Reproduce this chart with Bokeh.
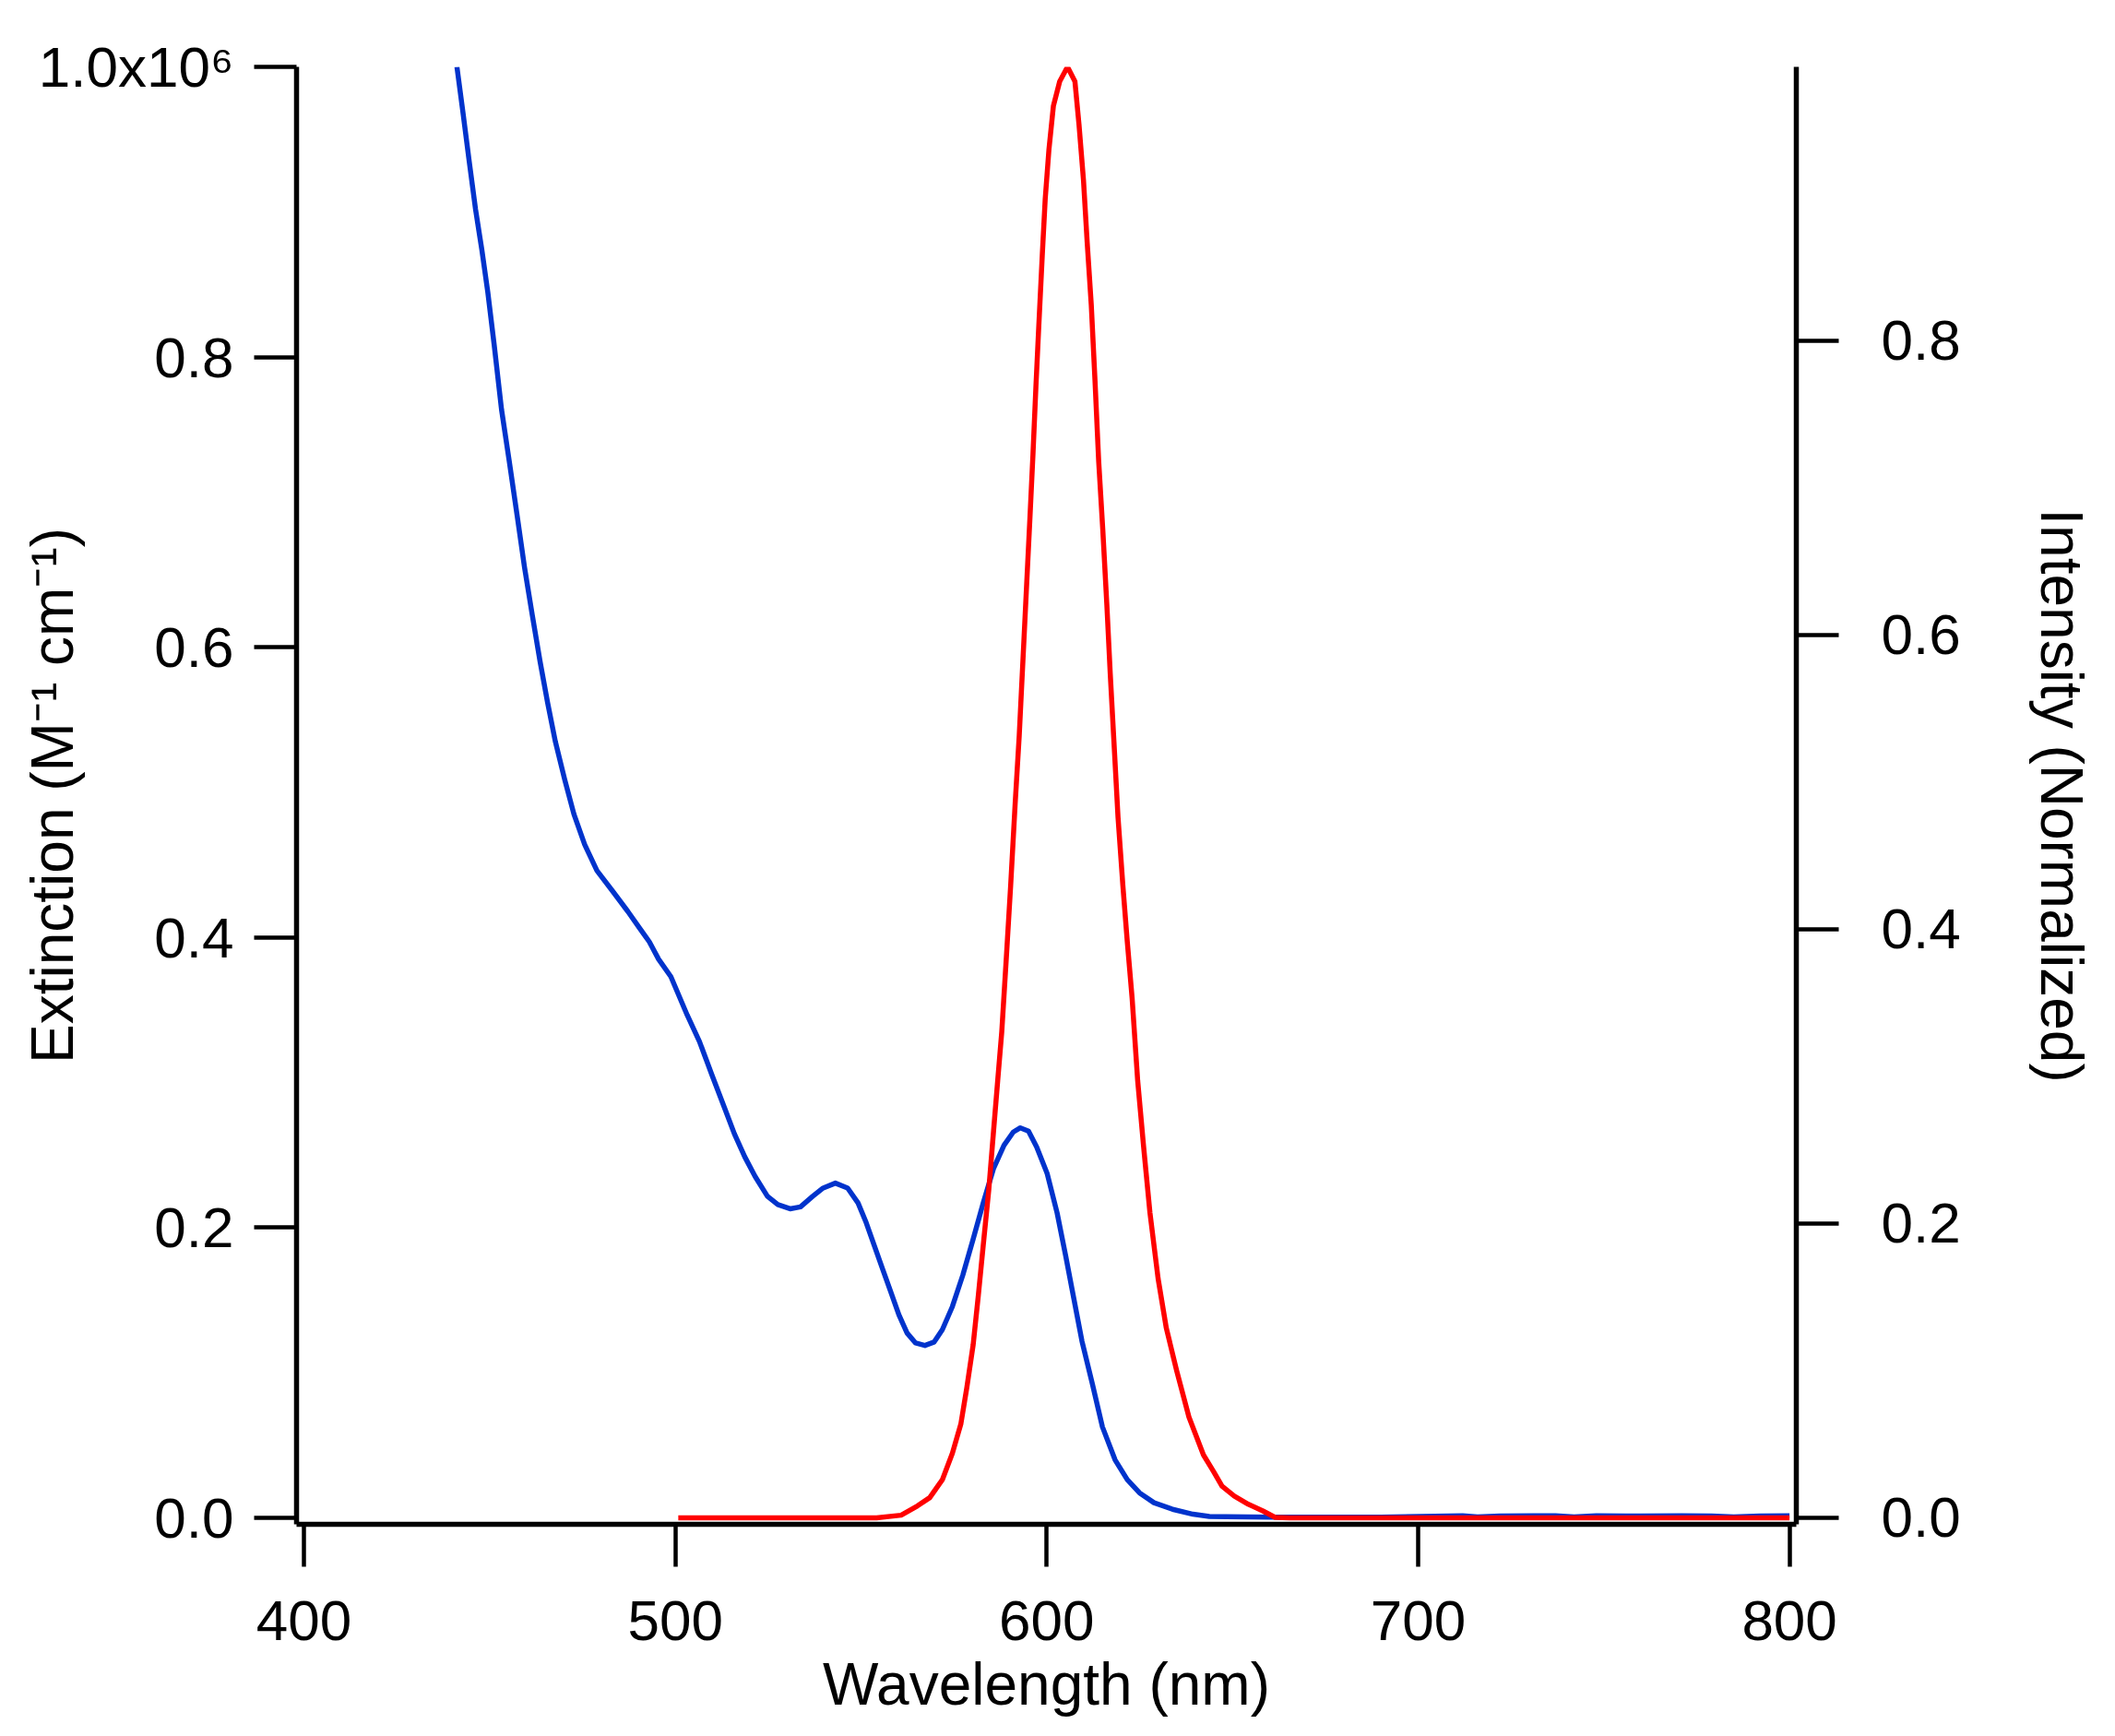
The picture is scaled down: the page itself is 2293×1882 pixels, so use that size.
from bokeh.plotting import figure
from bokeh.models import (Range1d, LinearAxis, FixedTicker, CustomJSTickFormatter,
                          ColumnDataSource)
from bokeh.embed import file_html
from bokeh.resources import INLINE

# ---------------- data ----------------
# Extinction (units of 10^6 M^-1 cm^-1), left axis
abs_wavelength = [441.2, 442.9, 444.5, 446.2, 447.9, 449.5, 451.2, 453.2, 455.3, 457.4,
                  459.4, 461.5, 463.6, 465.6, 467.7, 470.2, 472.7, 475.6, 478.9, 483.1,
                  487.2, 490.5, 493.0, 495.5, 498.8, 503.2, 506.5, 509.8, 513.2, 515.9,
                  518.7, 521.5, 524.8, 527.6, 530.9, 533.7, 537.0, 539.8, 543.1, 546.4,
                  549.2, 551.4, 553.6, 555.8, 558.0, 560.2, 562.4, 564.7, 567.2, 569.7,
                  571.9, 574.6, 577.4, 580.2, 582.9, 585.7, 588.5, 591.0, 592.9, 595.1,
                  597.3, 600.1, 602.8, 605.1, 607.3, 609.5, 612.3, 615.0, 618.4, 621.7,
                  625.0, 628.9, 633.9, 639.4, 643.8, 648.3,
                  660.0, 690.0, 712.0, 716.0, 722.0, 731.0, 737.0, 742.0, 748.0, 756.0,
                  771.0, 779.0, 785.0, 792.0, 800.0]
extinction = [1.000, 0.967, 0.935, 0.902, 0.874, 0.845, 0.809, 0.764, 0.728, 0.691,
              0.655, 0.622, 0.590, 0.562, 0.535, 0.509, 0.485, 0.464, 0.446, 0.432,
              0.418, 0.406, 0.397, 0.385, 0.373, 0.3465, 0.3283, 0.3056, 0.2829, 0.2647,
              0.2488, 0.2352, 0.2216, 0.2159, 0.2130, 0.2143, 0.2216, 0.2273, 0.2307, 0.2273,
              0.2170, 0.2034, 0.1875, 0.1716, 0.1558, 0.1399, 0.1274, 0.1205, 0.1188, 0.1212,
              0.1297, 0.1456, 0.1672, 0.1921, 0.2170, 0.2409, 0.2568, 0.2659, 0.2688, 0.2665,
              0.2556, 0.2375, 0.2102, 0.1807, 0.1512, 0.1217, 0.0922, 0.0627, 0.0400, 0.0263,
              0.0172, 0.0104, 0.0059, 0.0025, 0.0010, 0.0008,
              0.0005, 0.0005, 0.0014, 0.0006, 0.0013, 0.0015, 0.0014, 0.0006, 0.0015, 0.0013,
              0.0014, 0.0013, 0.0006, 0.0013, 0.0014]

# Emission intensity (normalized), right axis
em_wavelength = [500.8, 520.0, 540.0, 554.2, 560.8, 565.2, 568.5, 571.9, 574.6, 576.9,
                 578.5, 580.2, 581.6, 582.9, 584.4, 585.7, 586.8, 587.9, 589.2, 590.3,
                 591.5, 592.6, 593.6, 594.5, 595.5, 596.3, 597.1, 597.9, 598.8, 599.6,
                 600.6, 601.8, 603.5, 605.6, 607.6, 608.7, 609.9, 610.9, 612.0, 613.0,
                 614.0, 615.1, 616.2, 617.1, 618.1, 619.2, 620.5, 621.7, 623.0, 624.5,
                 626.1, 627.8, 630.0, 632.2, 635.0, 638.3, 642.2, 644.9, 647.2, 650.5,
                 654.3, 658.2, 661.5, 665.4, 700.0, 750.0, 800.0]
intensity = [0.0, 0.0, 0.0, 0.0, 0.0018, 0.0081, 0.0137, 0.0259, 0.0439, 0.0640,
             0.0886, 0.1177, 0.1514, 0.1849, 0.2229, 0.2633, 0.2969, 0.3304, 0.3836, 0.4299,
             0.4851, 0.5315, 0.5827, 0.6291, 0.6803, 0.7227, 0.7691, 0.8115, 0.8578, 0.8963,
             0.9298, 0.9594, 0.9761, 0.9860, 0.9761, 0.9466, 0.9091, 0.8667, 0.8243, 0.7730,
             0.7178, 0.6715, 0.6202, 0.5739, 0.5275, 0.4762, 0.4299, 0.3914, 0.3530, 0.2969,
             0.2520, 0.2073, 0.1625, 0.1290, 0.0999, 0.0685, 0.0428, 0.0316, 0.0215, 0.0148,
             0.0092, 0.0047, 0.0003, 0.0, 0.0, 0.0, 0.0]

x_ticks = [400, 500, 600, 700, 800]
left_ticks = [0.0, 0.2, 0.4, 0.6, 0.8, 1.0]
right_ticks = [0.0, 0.2, 0.4, 0.6, 0.8]

x_title = "Wavelength (nm)"
left_title = "Extinction (M\u207b\u00b9 cm\u207b\u00b9)"
right_title = "Intensity (Normalized)"

# ---------------- layout ----------------
W, H = 2277, 1866
FL, FR, FT, FB = 321, 1947, 72, 1652
XS, XE = 398.013, 801.838
YS, YE = -0.00445, 1.0
RS, RE = -0.00439, 0.986
FONT = "Liberation Sans"
BLUE = "#0033cc"
RED = "#ff0000"

p = figure(width=W, height=H, output_backend="svg", toolbar_location=None, title=None,
           x_range=Range1d(XS, XE), y_range=Range1d(YS, YE),
           min_border_left=FL, min_border_right=W - FR,
           min_border_top=FT, min_border_bottom=H - FB)
p.extra_y_ranges = {"right": Range1d(RS, RE)}
p.outline_line_color = None
p.xgrid.visible = False
p.ygrid.visible = False
p.background_fill_color = "white"
p.border_fill_color = "white"

ax_r = LinearAxis(y_range_name="right")
p.add_layout(ax_r, "right")

def style_axis(ax, standoff, title, title_standoff):
    ax.axis_line_width = 5.5
    ax.axis_line_color = "black"
    ax.major_tick_line_width = 4.5
    ax.major_tick_line_color = "black"
    ax.major_tick_in = 0
    ax.major_tick_out = 46
    ax.minor_tick_line_color = None
    ax.major_label_text_font = FONT
    ax.major_label_text_font_size = "62px"
    ax.major_label_text_color = "black"
    ax.major_label_standoff = standoff
    ax.axis_label = title
    ax.axis_label_text_font = FONT
    ax.axis_label_text_font_size = "64px"
    ax.axis_label_text_font_style = "normal"
    ax.axis_label_text_color = "black"
    ax.axis_label_standoff = title_standoff

xa = p.xaxis[0]
ya = p.yaxis[0]
style_axis(xa, 37, x_title, 9)
style_axis(ya, 22, left_title, -54)
style_axis(ax_r, 46, right_title, 70)
xa.ticker = FixedTicker(ticks=x_ticks)
ya.ticker = FixedTicker(ticks=left_ticks)
ax_r.ticker = FixedTicker(ticks=right_ticks)
ya.formatter = CustomJSTickFormatter(
    code="return tick > 0.99 ? '1.0x10\u2076' : tick.toFixed(1);")
ax_r.formatter = CustomJSTickFormatter(code="return tick.toFixed(1);")

# ---------------- curves ----------------
src_abs = ColumnDataSource(dict(x=abs_wavelength, y=extinction))
src_em = ColumnDataSource(dict(x=em_wavelength, y=intensity))
p.line("x", "y", source=src_abs, line_color=BLUE, line_width=5.5, line_join="round")
p.line("x", "y", source=src_em, line_color=RED, line_width=5.5, line_join="round",
       y_range_name="right")

open("out.html", "w").write(file_html(p, INLINE))
